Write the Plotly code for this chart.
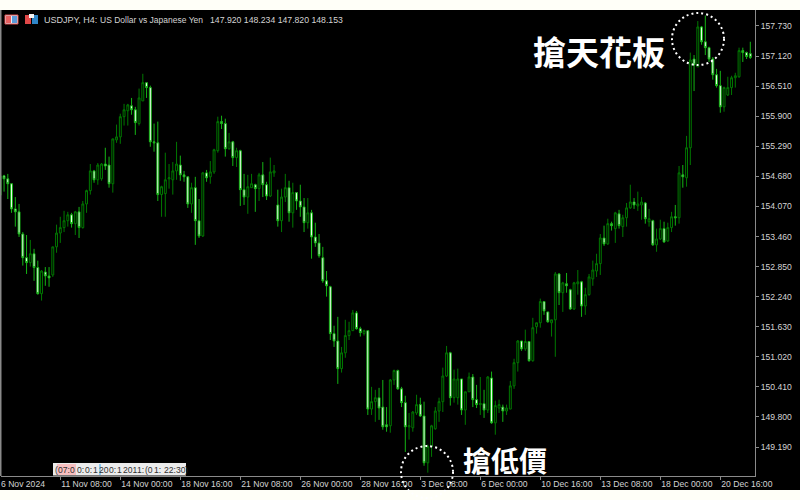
import plotly.graph_objects as go

opens = [154.30,154.69,154.63,154.53,154.02,153.96,153.51,153.03,152.93,153.11,
152.83,152.30,152.74,152.66,152.68,153.25,153.53,153.64,153.78,153.90,
153.72,153.96,153.64,154.12,154.39,154.79,154.61,154.63,154.93,154.91,
154.53,155.42,155.48,155.89,156.01,156.11,156.03,155.75,156.21,156.58,
156.48,155.38,155.36,154.31,154.33,154.63,154.61,154.79,154.91,154.71,
154.67,154.12,154.45,153.78,153.47,154.75,154.67,154.77,155.20,155.79,
155.75,155.24,155.38,155.06,155.20,154.41,154.26,154.45,154.51,154.43,
154.71,154.51,154.28,154.75,154.10,153.78,154.26,154.45,153.94,154.35,
154.18,154.06,153.74,153.94,153.45,153.33,153.03,152.56,152.44,151.49,
151.34,150.78,151.10,151.45,151.55,151.91,151.59,151.49,151.55,149.96,
150.11,150.19,150.00,149.64,149.62,150.55,150.74,150.37,150.09,149.60,
149.58,149.88,150.05,149.82,148.87,149.20,149.56,149.92,150.11,150.63,
151.10,150.19,150.19,150.57,149.94,150.31,150.61,150.15,150.05,150.07,
149.94,150.59,149.68,149.98,150.00,149.92,149.96,150.43,150.90,151.34,
151.18,151.33,150.94,151.63,151.71,152.14,151.93,151.71,151.77,152.70,
152.32,152.50,152.38,151.99,152.50,152.54,152.05,152.28,152.60,152.76,
152.91,153.43,153.31,153.72,153.62,153.92,153.66,153.84,154.04,154.16,
154.08,154.10,154.14,153.76,153.78,153.29,153.41,153.62,153.37,153.64,
153.86,153.84,154.71,154.65,155.26,157.06,156.90,157.71,157.41,157.29,
157.06,156.74,156.52,156.09,156.33,156.48,156.68,156.70,157.23,157.19,
157.17]

highs = [154.71,154.71,154.73,154.53,154.26,154.12,153.55,153.49,153.39,153.21,
152.97,152.78,152.84,152.84,153.25,153.70,153.86,153.98,153.96,153.94,
153.98,154.06,154.18,154.41,154.93,154.81,154.95,154.95,155.26,155.08,
155.44,155.73,155.95,156.15,156.15,156.27,156.09,156.46,156.76,156.58,
156.52,155.75,155.79,154.49,155.16,154.93,154.97,155.38,155.10,154.79,
154.67,154.55,154.67,154.22,154.77,154.81,154.99,155.24,155.89,155.91,
155.85,155.56,155.40,155.26,155.22,154.73,154.71,154.73,154.53,154.75,
154.97,154.57,155.06,154.91,154.41,154.43,154.73,154.59,154.55,154.35,
154.51,154.24,154.24,154.00,153.74,153.51,153.25,152.76,152.46,151.65,
151.83,151.22,151.77,151.73,151.97,151.95,151.63,151.57,151.55,150.41,
150.35,150.39,150.55,150.00,150.57,150.76,150.76,150.41,150.23,149.88,
149.92,150.25,150.19,150.11,149.24,149.64,150.00,150.19,150.80,151.24,
151.12,150.76,150.78,150.57,150.31,150.70,150.67,150.45,150.61,150.35,
150.63,150.72,150.13,150.15,150.05,150.05,150.53,150.98,151.36,151.34,
151.57,151.33,151.81,151.71,152.20,152.14,151.93,151.77,152.74,152.72,
152.54,152.72,152.40,152.54,152.78,152.56,152.42,152.70,152.97,153.11,
153.51,153.68,153.82,153.76,153.96,154.00,153.90,154.14,154.51,154.24,
154.37,154.26,154.16,154.02,153.80,153.62,153.80,153.76,153.74,153.96,
154.10,154.89,154.91,155.50,157.19,157.14,157.83,157.73,157.94,157.31,
157.10,156.86,156.82,156.50,156.70,156.72,156.78,157.29,157.29,157.21,
157.41]

lows = [154.31,154.37,154.22,153.94,153.66,153.45,152.87,152.70,152.85,152.56,
152.28,152.16,152.46,152.44,152.64,153.13,153.33,153.55,153.66,153.64,
153.49,153.43,153.62,153.94,154.31,154.55,154.51,154.59,154.81,154.45,
154.35,155.36,155.34,155.71,155.71,155.93,155.52,155.71,156.21,156.27,
155.28,155.18,154.18,153.86,153.86,154.43,154.31,154.61,154.59,154.57,
154.04,153.94,153.29,153.43,153.45,154.57,154.53,154.73,155.16,155.64,
155.08,155.22,154.89,154.87,154.08,154.10,153.92,154.45,153.96,154.18,
154.26,154.20,154.26,154.67,153.66,153.55,154.16,153.76,153.64,154.00,
153.86,153.55,153.62,153.01,153.25,153.03,152.52,152.24,151.36,151.22,
150.47,150.70,151.00,151.36,151.55,151.57,151.43,151.45,149.84,149.84,
149.70,149.74,149.54,149.50,149.48,150.45,150.35,150.00,149.09,149.34,
149.50,149.84,149.80,148.81,148.67,148.99,149.54,149.70,149.90,150.61,
150.03,150.09,150.05,149.84,149.64,150.31,150.00,149.98,149.84,149.78,
149.88,149.66,149.44,149.88,149.70,149.84,149.96,150.37,150.72,151.14,
151.14,150.92,150.92,151.49,151.61,151.87,151.71,151.43,151.02,152.07,
151.93,152.32,151.97,151.97,152.28,151.83,151.87,152.26,152.46,152.64,
152.68,153.27,153.29,153.58,153.33,153.62,153.45,153.66,154.02,154.02,
153.98,153.80,153.72,153.66,153.27,153.15,153.39,153.33,153.35,153.55,
153.68,153.72,154.45,154.47,154.91,156.41,156.90,157.35,157.14,157.00,
156.64,156.48,155.97,155.99,156.31,156.33,156.48,156.68,157.00,157.06,
157.06]

closes = [154.69,154.63,154.53,154.02,153.96,153.51,153.03,152.93,153.11,152.83,
152.30,152.76,152.66,152.62,153.25,153.53,153.64,153.78,153.90,153.72,
153.96,153.64,154.12,154.39,154.79,154.61,154.91,154.93,154.89,154.53,
155.44,155.48,155.89,156.03,156.13,156.03,155.77,156.27,156.58,156.48,
155.38,155.36,154.31,154.47,154.61,154.65,154.79,154.93,154.71,154.67,
154.12,154.45,153.78,153.47,154.75,154.65,154.77,155.22,155.79,155.75,
155.24,155.38,155.06,155.20,154.41,154.26,154.47,154.53,154.43,154.71,
154.51,154.28,154.77,154.79,153.78,154.26,154.45,153.94,154.35,154.18,
154.06,153.74,153.94,153.45,153.33,153.07,152.56,152.46,151.49,151.34,
150.78,151.10,151.45,151.55,151.91,151.59,151.51,151.55,149.96,150.11,
150.19,149.98,149.60,149.60,150.55,150.74,150.37,150.09,149.60,149.62,
149.90,150.05,149.82,148.87,149.20,149.62,149.92,150.11,150.63,151.10,
150.19,150.57,150.57,149.94,150.31,150.61,150.15,150.05,150.07,149.94,
150.61,149.68,150.03,150.05,149.92,149.98,150.43,150.90,151.34,151.18,
151.33,150.94,151.61,151.71,152.14,151.95,151.73,151.77,152.70,152.32,
152.52,152.46,151.99,152.52,152.54,152.05,152.28,152.64,152.78,152.91,
153.43,153.31,153.72,153.68,153.94,153.68,153.84,154.04,154.16,154.10,
154.12,154.16,153.82,153.82,153.29,153.41,153.62,153.35,153.64,153.86,
153.84,154.75,154.67,155.26,157.04,156.94,157.71,157.41,157.29,157.06,
156.74,156.52,156.09,156.48,156.48,156.68,156.72,157.23,157.19,157.11,
157.09]

bar_index = list(range(len(opens)))

time_ticks = [16, 32, 48, 64, 80, 96, 112, 128, 144, 160, 176, 192]
time_labels = ["11 Nov 08:00", "14 Nov 00:00", "18 Nov 16:00", "21 Nov 08:00",
               "26 Nov 00:00", "28 Nov 16:00", "3 Dec 08:00", "6 Dec 00:00",
               "10 Dec 16:00", "13 Dec 08:00", "18 Dec 00:00", "20 Dec 16:00"]
price_ticks = [157.730, 157.120, 156.510, 155.900, 155.290, 154.680, 154.070, 153.460,
               152.850, 152.240, 151.630, 151.020, 150.410, 149.800, 149.190]
header_parts = [(43, "USDJPY, H4:", 9), (99, "US Dollar vs Japanese Yen", 8.5),
                (209, "147.920 148.234 147.820 148.153", 8.7)]
strip_parts = [(53.5, "("), (57, "07:0"), (76, "0:"), (84, "0:"), (92, "1"), (97.5, "20"),
               (108, "0:"), (116, "1"), (121.5, "201"), (136, "1:"), (144, "(0"),
               (153, "1:"), (162.5, "22:30"), (184, ")")]

W, H = 800, 500
L, R, T, B = 1, 755, 10, 476
AXIS = "#8a8a8a"
TXT = "#d4d4d4"
SANS = "Liberation Sans"
CJK = "Noto Sans CJK TC"


def px(x):
    return (x - L) / (R - L)


def py(y):
    return (B - y) / (B - T)


def rect(x0, y0, x1, y1, fill, line=None, layer="above"):
    return dict(type="rect", xref="paper", yref="paper", x0=px(x0), x1=px(x1), y0=py(y1), y1=py(y0),
                fillcolor=fill, line=dict(width=1 if line else 0, color=line or fill), layer=layer)


fig = go.Figure(go.Candlestick(
    x=bar_index, open=opens, high=highs, low=lows, close=closes,
    increasing=dict(line=dict(color="#007800", width=1), fillcolor="#000000"),
    decreasing=dict(line=dict(color="#14b414", width=1), fillcolor="#ffffff"),
    whiskerwidth=0, hoverinfo="skip", showlegend=False,
))

shapes = [
    rect(0, 0, W, T, "#fffff8"),
    rect(0, 490, W, H, "#fffff8"),
    rect(0, T, 1.5, B, AXIS),
    # header icons
    rect(5, 15, 18, 24, "#e8f0f8", "#d84848"),
    rect(6, 16, 11, 23, "#e86060"),
    rect(12, 16, 17, 23, "#5a9ad8"),
    rect(25, 15, 31, 24, "#e04848"),
    rect(32, 15, 38, 24, "#2f86c8"),
    rect(29, 14, 34, 18, "#f4f4f4"),
    # session strip
    rect(53, 463, 186, 475.5, "#ececec"),
    rect(57, 464, 76, 475, "#f8c0c0"),
    rect(99, 464, 101, 475, "#8cc8f0"),
]
for cx, cy in [(698, 39), (427, 472)]:
    shapes.append(dict(type="circle", xref="paper", yref="paper",
                       x0=px(cx - 26), x1=px(cx + 26), y0=py(cy + 26), y1=py(cy - 26),
                       line=dict(color="#ffffff", width=2, dash="2px,3px"), layer="above"))


def note(x, y, text, size, color, family=SANS, anchor="left", weight=None):
    f = dict(family=family, size=size, color=color)
    if weight:
        f["weight"] = weight
    return dict(xref="paper", yref="paper", x=px(x), y=py(y), text=text, showarrow=False,
                xanchor=anchor, yanchor="middle", font=f, align="left", borderpad=0)


annotations = [note(x, 19.5, t, s, TXT) for x, t, s in header_parts]
annotations += [note(x, 469.5, t, 8.6, "#303030") for x, t in strip_parts]
annotations += [
    note(0, 484, "6 Nov 2024", 8.6, TXT),
    note(599, 51, "搶天花板", 33, "#ffffff", CJK, "center", 700),
    note(505, 460, "搶低價", 28, "#ffffff", CJK, "center", 700),
]

fig.update_layout(
    width=W, height=H,
    margin=dict(l=L, r=W - R, t=T, b=H - B, pad=0, autoexpand=False),
    paper_bgcolor="#000000", plot_bgcolor="#000000",
    boxgap=0.28,
    showlegend=False,
    shapes=shapes, annotations=annotations,
    xaxis=dict(
        type="linear", range=[0.187, 201.25], rangeslider=dict(visible=False),
        tickmode="array", tickvals=time_ticks, ticktext=time_labels, tickangle=0,
        ticks="outside", ticklen=3, tickcolor=AXIS, tickwidth=1, automargin=False,
        ticklabelposition="outside right",
        showgrid=False, zeroline=False, showline=True, linecolor=AXIS, linewidth=1,
        tickfont=dict(family=SANS, size=8.6, color=TXT),
    ),
    yaxis=dict(
        side="right", type="linear", range=[148.602, 158.054], automargin=False,
        tickmode="array", tickvals=price_ticks, ticktext=[f"{v:.3f}" for v in price_ticks],
        ticks="outside", ticklen=3, tickcolor=AXIS, tickwidth=1,
        showgrid=False, zeroline=False, showline=True, linecolor=AXIS, linewidth=1,
        tickfont=dict(family=SANS, size=8.6, color=TXT),
    ),
)

fig.write_html("out.html", config=dict(displayModeBar=False),
               post_script="document.body.style.margin='0';document.body.style.background='#fffff8';")
